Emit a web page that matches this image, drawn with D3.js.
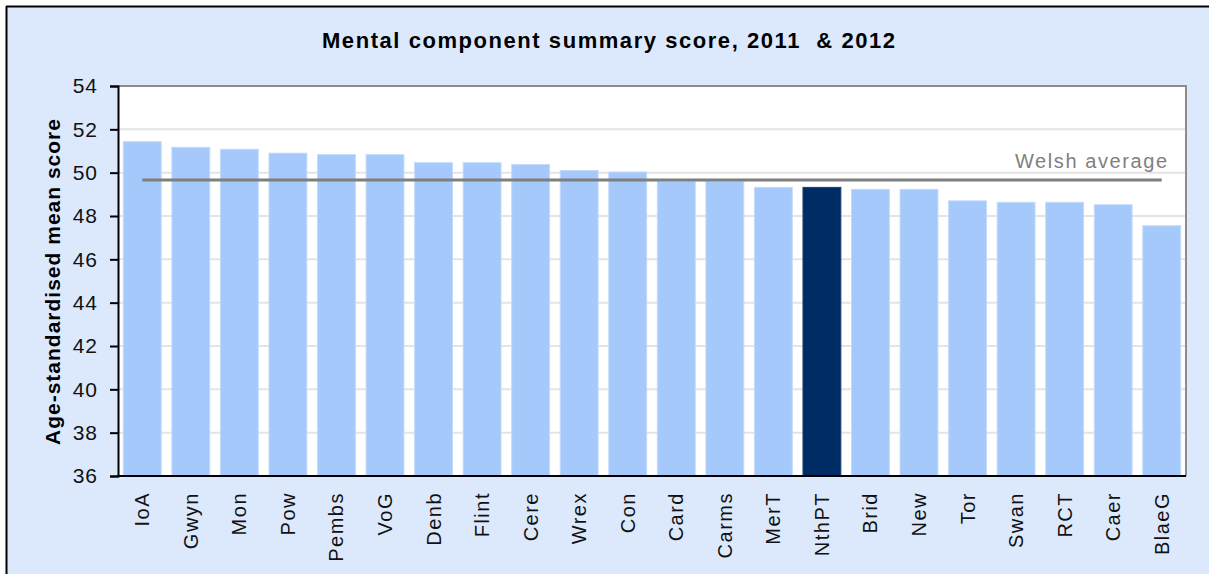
<!DOCTYPE html>
<html><head><meta charset="utf-8">
<script src="https://cdn.jsdelivr.net/npm/d3@7"></script>
<style>
html,body{margin:0;padding:0;background:#fff;}
svg{display:block;}
text{font-family:"Liberation Sans",Arial,sans-serif;white-space:pre;}
</style></head>
<body>
<svg id="chart" width="1209" height="574"></svg>
<script>
const categories = ["IoA","Gwyn","Mon","Pow","Pembs","VoG","Denb","Flint","Cere","Wrex","Con","Card","Carms","MerT","NthPT","Brid","New","Tor","Swan","RCT","Caer","BlaeG"];
const scores = [51.43,51.17,51.08,50.9,50.83,50.83,50.46,50.46,50.38,50.1,50.03,49.6,49.6,49.32,49.32,49.23,49.23,48.7,48.63,48.63,48.52,47.55];
const highlight = ["NthPT"];
const welshAverage = 49.66;
const yTicks = [36,38,40,42,44,46,48,50,52,54];
const title = "Mental component summary score, 2011  & 2012";
const yTitle = "Age-standardised mean score";
const avgLabel = "Welsh average";

const svg = d3.select("#chart");
const W = 1209, H = 574;
const plot = {left:118, right:1186, top:86, bottom:476};

svg.append("rect").attr("x",0).attr("y",0).attr("width",W).attr("height",H).attr("fill","#ffffff");
svg.append("rect").attr("x",7).attr("y",7).attr("width",W).attr("height",H).attr("fill","#dce9fd");
svg.append("line").attr("x1",6).attr("x2",W).attr("y1",6.5).attr("y2",6.5).attr("stroke","#000").attr("stroke-width",2);
svg.append("line").attr("x1",6.5).attr("x2",6.5).attr("y1",6).attr("y2",H).attr("stroke","#000").attr("stroke-width",2);

const x = d3.scaleBand().domain(categories).range([plot.left, plot.right]).paddingInner(0.22).paddingOuter(0.11);
const y = d3.scaleLinear().domain([36,54]).range([plot.bottom, plot.top]);

svg.append("rect").attr("x",plot.left).attr("y",plot.top).attr("width",plot.right-plot.left).attr("height",plot.bottom-plot.top).attr("fill","#ffffff");

svg.append("g").selectAll("line").data(yTicks.filter(t=>t>36 && t<54)).join("line")
  .attr("x1",plot.left).attr("x2",plot.right)
  .attr("y1",d=>y(d)).attr("y2",d=>y(d))
  .attr("stroke","#e4e4e4").attr("stroke-width",2);

svg.append("path").attr("d",`M${plot.left},${plot.top}H${plot.right}V${plot.bottom}`)
  .attr("fill","none").attr("stroke","#8c8c8c").attr("stroke-width",2);

svg.append("g").selectAll("rect").data(categories).join("rect")
  .attr("x",d=>x(d)).attr("width",x.bandwidth())
  .attr("y",(d,i)=>y(scores[i])).attr("height",(d,i)=>y(36)-y(scores[i]))
  .attr("fill",d=>highlight.includes(d)?"#002c66":"#a4c9fa")
  .attr("stroke",d=>highlight.includes(d)?"#1a3f73":"#c3dbfb").attr("stroke-width",1);

svg.append("line")
  .attr("x1",x(categories[0])+x.bandwidth()/2).attr("x2",x(categories[categories.length-1])+x.bandwidth()/2)
  .attr("y1",y(welshAverage)).attr("y2",y(welshAverage))
  .attr("stroke","#7f7f7f").attr("stroke-width",3);
svg.append("text").attr("x",1015).attr("y",y(welshAverage)-12)
  .attr("text-anchor","start").attr("font-size",20).attr("fill","#808080")
  .attr("textLength",152).attr("lengthAdjust","spacing").text(avgLabel);

const yAxis = d3.axisLeft(y).tickValues(yTicks).tickSize(8).tickPadding(12).tickFormat(d3.format("d"));
const ya = svg.append("g").attr("transform",`translate(${plot.left},0)`).call(yAxis);
ya.select(".domain").attr("stroke","#000").attr("stroke-width",2);
ya.selectAll(".tick line").attr("stroke","#000").attr("stroke-width",2);
ya.selectAll(".tick text").attr("font-size",21).attr("letter-spacing",1).attr("fill","#111").attr("font-family","Liberation Sans, Arial, sans-serif");

const xAxis = d3.axisBottom(x).tickSize(0).tickPadding(0);
const xa = svg.append("g").attr("transform",`translate(0,${plot.bottom})`).call(xAxis);
xa.select(".domain").attr("stroke","#000").attr("stroke-width",2).attr("d",`M${plot.left-1},0H${plot.right}`);
xa.selectAll(".tick text")
  .attr("font-size",20).attr("letter-spacing",1.5).attr("fill","#111").attr("font-family","Liberation Sans, Arial, sans-serif")
  .attr("text-anchor","end").attr("dy","0.35em")
  .attr("transform","translate(0,16) rotate(-90)").attr("x",0).attr("y",0);

svg.append("text").attr("x",322).attr("y",48).attr("text-anchor","start")
  .attr("font-size",22).attr("font-weight","bold").attr("fill","#000")
  .attr("textLength",573).attr("lengthAdjust","spacing").text(title);
svg.append("text").attr("transform",`translate(60,445) rotate(-90)`).attr("text-anchor","start")
  .attr("font-size",21).attr("font-weight","bold").attr("fill","#000")
  .attr("textLength",326).attr("lengthAdjust","spacing").text(yTitle);
</script>
</body></html>
